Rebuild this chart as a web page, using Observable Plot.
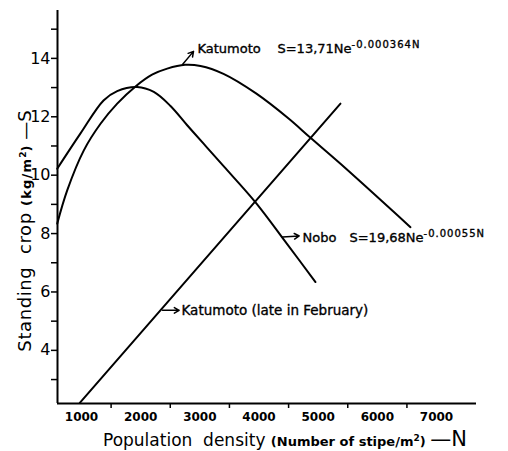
<!DOCTYPE html>
<html>
<head>
<meta charset="utf-8">
<script src="https://cdn.jsdelivr.net/npm/d3@7"></script>
<script src="https://cdn.jsdelivr.net/npm/@observablehq/plot@0.6"></script>
<style>
  html, body { margin: 0; padding: 0; background: #fff; }
  #chart { width: 508px; height: 451px; }
</style>
</head>
<body>
<div id="chart"></div>
<script>
// ---- data ----
const xTickLabels = [1000, 2000, 3000, 4000, 5000, 6000, 7000];
const xMinorTicks = [1500, 2500, 3500, 4500, 5500, 6500];
const yTickLabels = [4, 6, 8, 10, 12, 14];
const yMinorTicks = [3, 5, 7, 9, 11, 13, 15];

const noboN = [589, 983, 1372, 1603, 1941, 2222, 2504, 2786, 3067, 3405, 3941, 4476, 4955];
const noboS = [10.22, 11.43, 12.56, 12.88, 13.02, 12.85, 12.37, 11.71, 11.07, 10.3, 9.07, 7.64, 6.34];

const katN = [589, 758, 1039, 1321, 1603, 1913, 2200, 2448, 2750, 3011, 3400, 3950, 4500, 4870, 5377, 6560];
const katS = [8.34, 9.48, 10.85, 11.76, 12.45, 13.04, 13.45, 13.65, 13.78, 13.74, 13.47, 12.8, 11.94, 11.28, 10.39, 8.22];

const febN = [971, 5377];
const febS = [2.2, 12.45];

const nobo = noboN.map((n, i) => ({N: n, S: noboS[i]}));
const kat = katN.map((n, i) => ({N: n, S: katS[i]}));
const feb = febN.map((n, i) => ({N: n, S: febS[i]}));

const xDomain = [594, 7676];
const yDomain = [2.18, 15.64];
const font = "DejaVu Sans";
const ann = {textAnchor: "start", fontSize: 13, fontWeight: "normal", stroke: "black", strokeWidth: 0.35, fill: "black"};

const plot = Plot.plot({
  width: 508,
  height: 451,
  marginLeft: 57,
  marginRight: 32,
  marginTop: 10,
  marginBottom: 48,
  style: {fontFamily: font, background: "white", color: "black", overflow: "visible"},
  x: {domain: xDomain},
  y: {domain: yDomain},
  marks: [
    Plot.ruleX([xDomain[0]], {stroke: "black", strokeWidth: 2}),
    Plot.ruleY([yDomain[0]], {stroke: "black", strokeWidth: 2}),
    Plot.axisY({ticks: yTickLabels, tickSize: 6, tickPadding: 1, fontSize: 16, label: null, strokeWidth: 1.5}),
    Plot.axisY({ticks: yMinorTicks, tickSize: 6, text: null, label: null, strokeWidth: 1.5}),
    Plot.axisX({ticks: xTickLabels, tickSize: 0, tickPadding: 9, fontSize: 12, fontWeight: "bold", label: null, tickFormat: d => String(d)}),
    Plot.axisX({ticks: xMinorTicks, tickSize: 5, text: null, label: null, strokeWidth: 1.5}),
    Plot.line(nobo, {x: "N", y: "S", curve: "catmull-rom", stroke: "black", strokeWidth: 2}),
    Plot.line(kat, {x: "N", y: "S", curve: "catmull-rom", stroke: "black", strokeWidth: 2}),
    Plot.line(feb, {x: "N", y: "S", stroke: "black", strokeWidth: 2}),
    // annotations
    Plot.arrow([0], {x1: 2707, y1: 13.79, x2: 2893, y2: 14.24, stroke: "black", strokeWidth: 1.5, headLength: 6}),
    Plot.text(["Katumoto"], {x: 2960, y: 14.34, ...ann}),
    Plot.text(["S=13,71Ne^-0.000364N"], {x: 4312, y: 14.34, ...ann}),
    Plot.arrow([0], {x1: 4397, y1: 7.88, x2: 4680, y2: 7.92, stroke: "black", strokeWidth: 1.5, headLength: 6}),
    Plot.text(["Nobo"], {x: 4735, y: 7.84, ...ann}),
    Plot.text(["S=19,68Ne^-0.00055N"], {x: 5529, y: 7.84, ...ann}),
    Plot.arrow([0], {x1: 2369, y1: 5.37, x2: 2650, y2: 5.37, stroke: "black", strokeWidth: 1.5, headLength: 6}),
    Plot.text(["Katumoto (late in February)"], {x: 2690, y: 5.37, ...ann, fontSize: 13.5})
  ]
});

// superscripts for the equations
d3.select(plot).selectAll("text").each(function() {
  const t = this.textContent;
  if (t.includes("^")) {
    const [base, sup] = t.split("^");
    const sel = d3.select(this);
    sel.text(null);
    sel.append("tspan").text(base);
    sel.append("tspan").attr("dy", "-0.5em").attr("font-size", "10px").attr("letter-spacing", "1").text(sup);
  }
});

const svg = d3.select(plot);

// y-axis label
const yl = svg.append("text")
  .attr("transform", "translate(31,231) rotate(-90)")
  .attr("text-anchor", "middle")
  .attr("font-family", font)
  .attr("fill", "black");
yl.append("tspan").attr("font-size", "18px").attr("letter-spacing", "0.6").text("Standing  crop ");
yl.append("tspan").attr("font-size", "13px").attr("letter-spacing", "1.2").attr("font-weight", "bold").text("(kg/m");
yl.append("tspan").attr("font-size", "9px").attr("dy", "-0.6em").attr("font-weight", "bold").text("2");
yl.append("tspan").attr("font-size", "13px").attr("dy", "0.4em").attr("font-weight", "bold").text(")");
yl.append("tspan").attr("font-size", "18px").text(" \u2014S");

// x-axis label
const xl = svg.append("text")
  .attr("x", 103)
  .attr("y", 446)
  .attr("text-anchor", "start")
  .attr("font-family", font)
  .attr("fill", "black");
xl.append("tspan").attr("font-size", "17px").text("Population  density ");
xl.append("tspan").attr("font-size", "13px").attr("font-weight", "bold").text("(Number of stipe/m");
xl.append("tspan").attr("font-size", "9px").attr("dy", "-0.6em").attr("font-weight", "bold").text("2");
xl.append("tspan").attr("font-size", "13px").attr("dy", "0.4em").attr("font-weight", "bold").text(") ");
xl.append("tspan").attr("font-size", "21px").text("\u2014N");

document.getElementById("chart").appendChild(plot);
</script>
</body>
</html>
